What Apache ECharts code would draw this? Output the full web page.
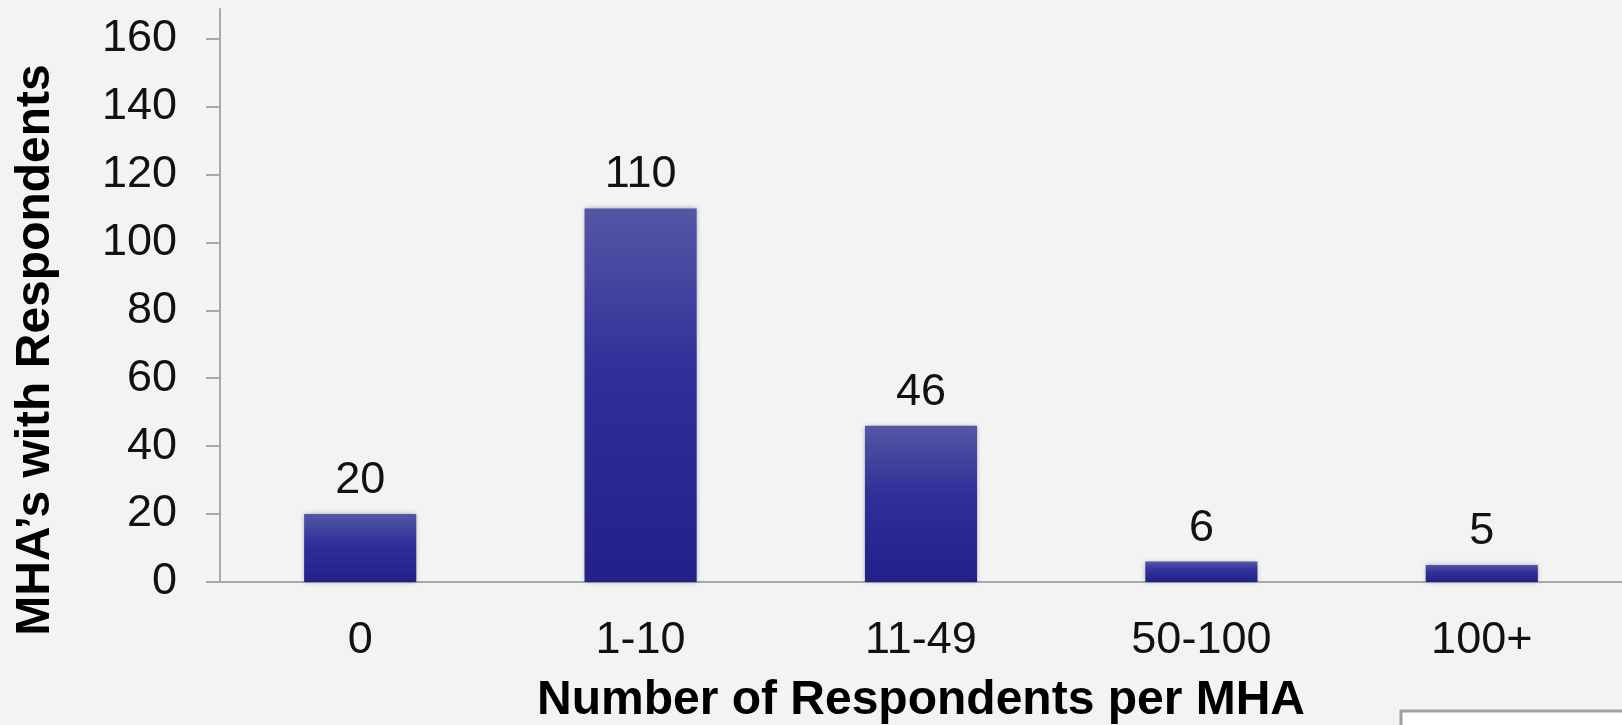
<!DOCTYPE html>
<html>
<head>
<meta charset="utf-8">
<script src="https://cdn.jsdelivr.net/npm/echarts@6/dist/echarts.min.js"></script>
<style>
html,body{margin:0;padding:0;background:#f3f3f3;}
#c{width:1622px;height:725px;}
</style>
</head>
<body>
<div id="c"></div>
<script>
const categories = ['0', '1-10', '11-49', '50-100', '100+'];
const values = [20, 110, 46, 6, 5];
const yTicks = [0, 20, 40, 60, 80, 100, 120, 140, 160];
const xTitle = 'Number of Respondents per MHA';
const yTitle = 'MHA\u2019s with Respondents';

const chart = echarts.init(document.getElementById('c'));
const font = '"Liberation Sans", Arial, sans-serif';
chart.setOption({
  backgroundColor: '#f3f3f3',
  animation: false,
  grid: { left: 220, right: 0, top: 9, bottom: 143, containLabel: false, outerBoundsMode: 'none' },
  xAxis: {
    type: 'category',
    data: categories,
    axisLine: { lineStyle: { color: '#a8a8a8', width: 2 } },
    axisTick: { show: false },
    axisLabel: { color: '#111', fontSize: 45, fontFamily: font, margin: 36 },
    name: xTitle,
    nameLocation: 'middle',
    nameGap: 95,
    nameTextStyle: { color: '#000', fontSize: 48, fontWeight: 'bold', fontFamily: font }
  },
  yAxis: {
    type: 'value',
    min: 0,
    max: 168.7,
    interval: 20,
    splitLine: { show: false },
    axisLine: { show: true, lineStyle: { color: '#a8a8a8', width: 2 } },
    axisTick: { show: true, length: 14, customValues: yTicks, lineStyle: { color: '#a8a8a8', width: 2 } },
    axisLabel: { color: '#111', fontSize: 45, fontFamily: font, margin: 43, customValues: yTicks }
  },
  graphic: [
    {
      type: 'text',
      x: 36, y: 350,
      rotation: Math.PI / 2,
      style: {
        text: yTitle,
        fill: '#000',
        font: 'bold 48px "Liberation Sans", Arial, sans-serif',
        align: 'center',
        verticalAlign: 'middle'
      }
    },
    {
      type: 'rect',
      shape: { x: 1401, y: 711, width: 240, height: 30 },
      style: { fill: '#ffffff', stroke: '#a0a0a0', lineWidth: 3 }
    }
  ],
  series: [{
    type: 'bar',
    data: values,
    barWidth: '40%',
    itemStyle: {
      color: new echarts.graphic.LinearGradient(0, 0, 0, 1, [
        { offset: 0, color: '#5456a6' },
        { offset: 0.45, color: '#2e2f98' },
        { offset: 1, color: '#22218a' }
      ]),
      shadowBlur: 5,
      shadowColor: 'rgba(0,0,0,0.3)'
    },
    label: {
      show: true,
      position: 'top',
      distance: 11,
      color: '#111',
      fontSize: 45,
      fontFamily: font
    }
  }]
});
</script>
</body>
</html>
